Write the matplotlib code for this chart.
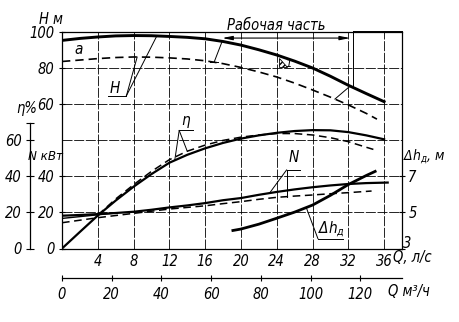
import matplotlib
matplotlib.use('Agg')
import matplotlib.pyplot as plt
import numpy as np
from matplotlib.patches import Polygon

plt.rcParams['font.family'] = ['DejaVu Sans']
plt.rcParams['font.stretch'] = 'condensed'
plt.rcParams['font.style'] = 'oblique'
plt.rcParams['font.size'] = 10
plt.rcParams['mathtext.fontset'] = 'custom'
plt.rcParams['mathtext.it'] = 'DejaVu Sans:style=oblique:stretch=condensed'
plt.rcParams['mathtext.rm'] = 'DejaVu Sans:style=oblique:stretch=condensed'

######## pump characteristic data (Q in l/s) ########

q = [0, 2, 4, 6, 8, 10, 12, 14, 16, 18, 20, 22, 24, 26, 28, 30, 32, 34, 36]

# head H, m
h_solid = [95.5, 96.6, 97.4, 98.0, 98.2, 98.1, 97.7, 97.2, 96.4, 94.9, 92.9,
           90.3, 87.4, 84.0, 80.2, 75.6, 70.6, 66.0, 61.5]
q_h_dash = [0, 2, 4, 6, 8, 10, 12, 14, 16, 18, 20, 22, 24, 26, 28, 30, 32, 34, 35.2]
h_dash = [83.8, 84.6, 85.4, 86.0, 86.3, 86.2, 85.8, 85.2, 84.2, 82.6, 80.5,
          78.0, 75.2, 71.8, 68.0, 64.0, 59.7, 55.0, 51.8]

# efficiency, %
eta_solid = [0, 9.2, 18.3, 26.6, 34.3, 41.3, 47.6, 52.0, 55.6, 58.6, 61.0,
             62.8, 64.2, 65.2, 65.7, 65.6, 64.6, 62.8, 60.6]
q_eta_dash = [4, 6, 8, 10, 12, 14, 16, 18, 20, 22, 24, 26, 28, 30, 32, 34, 34.8]
eta_dash = [18.5, 27.5, 35.4, 42.8, 49.3, 54.0, 57.4, 60.0, 61.8, 63.0, 63.8,
            63.8, 63.0, 61.5, 59.3, 56.2, 55.0]

# power N, kW
q_n = [0, 2, 4, 6, 8, 10, 12, 14, 16, 18, 20, 22, 24, 26, 28, 30, 32, 34, 36.4]
n_solid = [18.2, 18.6, 19.1, 19.7, 20.4, 21.5, 22.8, 23.9, 25.2, 26.8, 28.0,
           29.8, 31.4, 32.8, 34.0, 35.0, 35.8, 36.3, 36.6]
q_n_thin = [0, 2, 4, 6]
n_thin = [16.7, 17.7, 18.7, 19.7]
q_n_dash = [0, 2, 4, 6, 8, 10, 12, 14, 16, 18, 20, 22, 24, 26, 28, 30, 32, 34.6]
n_dash = [14.3, 15.7, 17.1, 18.3, 19.5, 20.7, 21.9, 22.8, 23.7, 24.9, 26.0,
          27.3, 28.4, 29.1, 29.7, 30.4, 31.0, 31.9]

# allowable suction lift dh, m
q_dh = [19.1, 20, 22, 24, 26, 28, 30, 32, 34, 35]
dh = [4.0, 4.08, 4.35, 4.68, 5.02, 5.41, 5.95, 6.55, 7.05, 7.28]

q_ticks = [4, 8, 12, 16, 20, 24, 28, 32, 36]
qm_ticks = [0, 20, 40, 60, 80, 100, 120]

######## layout ########

FW, FH = 460, 322


def fig_xy(x, y):
    return x / FW, 1 - y / FH


fig = plt.figure(figsize=(FW / 100, FH / 100), dpi=100)
ax = fig.add_axes([62 / FW, 1 - 248.5 / FH, 340 / FW, 216.2 / FH])
ax.set_xlim(0, 38)
ax.set_ylim(0, 120)
for s in ax.spines.values():
    s.set_linewidth(0.9)

grid_kw = dict(color='k', lw=0.6, ls=(0, (12, 2)), zorder=1)
for x in q_ticks:
    ax.axvline(x, **grid_kw)
for y in range(20, 120, 20):
    ax.axhline(y, **grid_kw)

ax.set_xticks(q_ticks)
ax.tick_params(axis='x', length=0, pad=4, labelsize=10.5)
ax.set_yticks([0, 20, 40])
ax.tick_params(axis='y', direction='inout', length=5, width=0.8, pad=3, labelsize=10.5)

# efficiency and power share the 0..120 scale
ax.plot(q, eta_solid, color='k', lw=1.6, zorder=3)
ax.plot(q_eta_dash, eta_dash, color='k', lw=1.1, dashes=(5, 3), zorder=3)
ax.plot(q_n, n_solid, color='k', lw=1.6, zorder=3)
ax.plot(q_n_thin, n_thin, color='k', lw=1.0, zorder=3)
ax.plot(q_n_dash, n_dash, color='k', lw=1.1, dashes=(5, 3), zorder=3)

# head, 60..100 m on the upper part of the grid
axH = ax.twinx()
axH.set_ylim(-20, 100)
axH.plot(q, h_solid, color='k', lw=2.1, zorder=3)
axH.plot(q_h_dash, h_dash, color='k', lw=1.2, dashes=(5, 3), zorder=3)
axH.yaxis.tick_left()
axH.set_yticks([60, 80, 100])
axH.tick_params(axis='y', direction='inout', length=5, width=0.8, pad=3, labelsize=10.5)
for s in axH.spines.values():
    s.set_visible(False)

# suction lift
axD = ax.twinx()
axD.set_ylim(3, 15)
axD.plot(q_dh, dh, color='k', lw=2.0, zorder=3)
axD.set_yticks([3, 5, 7], ['', '5', '7'])
axD.tick_params(axis='y', direction='inout', length=5, width=0.8, pad=2, labelsize=10.5)
for s in axD.spines.values():
    s.set_visible(False)

# outer efficiency scale
axE = ax.twinx()
axE.set_ylim(0, 120)
axE.yaxis.tick_left()
for s in axE.spines.values():
    s.set_visible(False)
axE.spines['left'].set_visible(True)
axE.spines['left'].set_position(('outward', 23))
axE.spines['left'].set_bounds(0, 69.6)
axE.spines['left'].set_linewidth(0.9)
axE.set_yticks([0, 20, 40, 60, 69.6], ['0', '20', '40', '60', ''])
axE.tick_params(axis='y', direction='inout', length=6, width=0.8, pad=3, labelsize=10.5)

# second flow scale, m3/h
sec = ax.secondary_xaxis(-0.135, functions=(lambda x: x * 3.6, lambda x: x / 3.6))
sec.set_xticks(qm_ticks)
sec.tick_params(direction='inout', length=5, width=0.8, pad=4, labelsize=10.5)
sec.spines['bottom'].set_linewidth(0.9)

######## labels ########


def label(x, y, s, size=10.5, ha='center', **kw):
    fig.text(*fig_xy(x, y), s, fontsize=size, ha=ha, va='center', **kw)


label(51, 20, 'Н м')
label(27, 108, 'η%')
label(46, 157, 'N кВт', size=9.5)
label(403, 157, r'Δ$h_д$, м', size=10, ha='left')
label(407, 244, '3')
label(393, 258, 'Q, л/с', ha='left')
label(388, 292, 'Q м³/ч', ha='left')
label(276, 25, 'Рабочая часть', size=10.5)
label(79, 50, 'а', size=11)
label(115, 88, 'Н', size=11)
label(186, 120, 'η', size=11)
label(294, 157, 'N', size=11)
label(332, 229, r'Δ$h_д$', size=11)
label(289, 64, '1', size=8)

lead = dict(color='k', lw=0.7, clip_on=False, zorder=4)

# H leaders
axH.plot([5.1, 7.2], [64.8, 64.8], **lead)
axH.plot([7.2, 10.6], [64.8, np.interp(10.6, q, h_solid)], **lead)
axH.plot([7.2, 8.4], [64.8, np.interp(8.4, q_h_dash, h_dash)], **lead)

# eta leaders
ax.plot([13.1, 14.6], [65.5, 65.5], **lead)
ax.plot([13.1, 12.6], [65.5, np.interp(12.6, q, eta_solid)], **lead)
ax.plot([13.1, 14.0], [65.5, np.interp(14.0, q_eta_dash, eta_dash)], **lead)

# N leaders
ax.plot([25.1, 26.6], [43.6, 43.6], **lead)
ax.plot([25.1, 23.2], [43.6, np.interp(23.2, q_n, n_solid)], **lead)
ax.plot([25.1, 25.1], [43.6, np.interp(25.1, q_n_dash, n_dash)], **lead)

# dh leader
axD.plot([28.6, 31.4], [3.55, 3.55], **lead)
axD.plot([28.6, 27.3], [3.55, np.interp(27.3, q_dh, dh)], **lead)

# working range
axH.annotate('', xy=(32.2, 96.8), xytext=(17.9, 96.8),
             arrowprops=dict(arrowstyle='<|-|>,head_length=0.6,head_width=0.12',
                             color='k', lw=0.8, shrinkA=0, shrinkB=0))
axH.plot([32.5, 32.5], [100.7, np.interp(32.5, q, h_solid)], **lead)
axH.plot([32.5, 38], [100.7, 100.7], **lead)
axH.plot([17.9, 17.0], [np.interp(17.9, q, h_solid), np.interp(17.0, q_h_dash, h_dash)], **lead)
axH.plot([16.5, 17.4], [np.interp(17.0, q_h_dash, h_dash)] * 2, **lead)
axH.plot([32.2, 30.5], [np.interp(32.2, q, h_solid), np.interp(30.5, q_h_dash, h_dash)], **lead)

# point 1 mark on the head curve
tri = Polygon([fig_xy(279, 58), fig_xy(279, 67), fig_xy(287, 67)], closed=True,
              transform=fig.transFigure, facecolor='none', edgecolor='k',
              hatch='//////', lw=0.6)
fig.add_artist(tri)

plt.savefig('out.png', dpi=100)
